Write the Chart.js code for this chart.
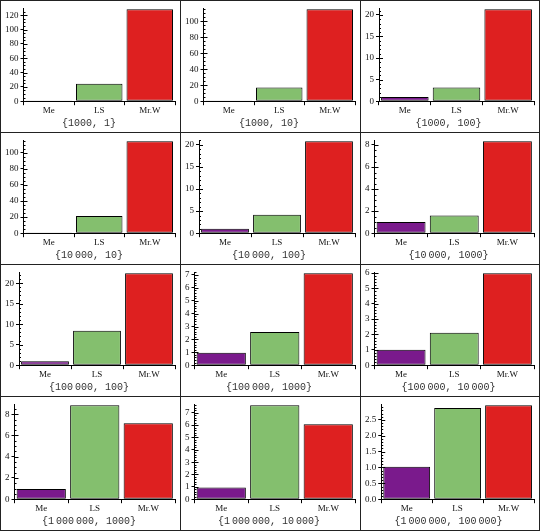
<!DOCTYPE html>
<html>
<head>
<meta charset="utf-8">
<script src="https://cdn.jsdelivr.net/npm/chart.js@4.4.0/dist/chart.umd.min.js"></script>
<style>
  html, body { margin: 0; padding: 0; background: #fff; }
  #grid {
    width: 540px; height: 531px; box-sizing: border-box;
    display: grid;
    grid-template-columns: 179px 179px 178px;
    grid-template-rows: 131px 131px 131px 133px;
    gap: 1px; padding: 1px;
    background: #222;
  }
  .cell { background: #fff; position: relative; overflow: hidden; }
  canvas { display: block; }
</style>
</head>
<body>
<div id="grid"></div>
<script>
// ── Data ─────────────────────────────────────────────
const categories = ['Me', 'LS', 'Mr.W'];
const panelTitles = [
    '{1000, 1}', '{1000, 10}', '{1000, 100}',
    '{10\u2009000, 10}', '{10\u2009000, 100}', '{10\u2009000, 1000}',
    '{100\u2009000, 100}', '{100\u2009000, 1000}', '{100\u2009000, 10\u2009000}',
    '{1\u2009000\u2009000, 1000}', '{1\u2009000\u2009000, 10\u2009000}', '{1\u2009000\u2009000, 100\u2009000}'
];
const meValues  = [1, 1, 1, 1, 1, 1.02, 0.95, 0.97, 1, 0.97, 0.95, 1.02];
const lsValues  = [24.5, 17.2, 3.2, 21.3, 4.2, 1.61, 8.4, 2.58, 2.11, 8.84, 7.6, 2.88];
const mrwValues = [128.4, 114.8, 21.3, 114.3, 20.8, 8.33, 22.4, 7.13, 5.98, 7.16, 6.07, 2.96];
const majorSteps = [20, 20, 5, 20, 5, 2, 5, 1, 1, 2, 1, 0.5];
const minorSteps = [5, 5, 1, 5, 1, 0.5, 1, 0.2, 0.2, 0.5, 0.2, 0.1];

const barColors = ['#7a1a8c', '#84bf6e', '#de2020'];
const colWidths = [179, 179, 178];
const rowHeights = [131, 131, 131, 133];

// minor ticks drawn inward from the y axis
const minorTicks = {
    id: 'minorTicks',
    afterDraw(chart, args, opts) {
        const y = chart.scales.y;
        const ctx = chart.ctx;
        const n = Math.floor(y.max / opts.step + 1e-6);
        ctx.save();
        ctx.strokeStyle = '#000';
        ctx.lineWidth = 1;
        ctx.beginPath();
        for (let i = 0; i <= n; i++) {
            const v = i * opts.step;
            const isMajor = Math.abs(v / opts.major - Math.round(v / opts.major)) < 1e-6;
            const py = Math.round(y.getPixelForValue(v)) + 0.5;
            ctx.moveTo(y.right, py);
            ctx.lineTo(y.right + (isMajor ? 4 : 2), py);
        }
        ctx.stroke();
        ctx.restore();
    }
};

const serif = "'Liberation Serif', 'DejaVu Serif', serif";
const mono = "'Liberation Mono', 'DejaVu Sans Mono', monospace";

const grid = document.getElementById('grid');

panelTitles.forEach((title, i) => {
    const cell = document.createElement('div');
    cell.className = 'cell';
    const canvas = document.createElement('canvas');
    canvas.width = colWidths[i % 3];
    canvas.height = rowHeights[Math.floor(i / 3)];
    cell.appendChild(canvas);
    grid.appendChild(cell);

    const values = [meValues[i], lsValues[i], mrwValues[i]];
    const step = majorSteps[i];

    new Chart(canvas, {
        type: 'bar',
        data: {
            labels: categories,
            datasets: [{
                data: values,
                backgroundColor: barColors,
                borderColor: '#000',
                borderWidth: 1,
                borderSkipped: false,
                barPercentage: 0.92,
                categoryPercentage: 1
            }]
        },
        options: {
            responsive: false,
            animation: false,
            events: [],
            layout: { padding: { top: 5, right: 5, left: 2, bottom: 0 } },
            plugins: {
                legend: { display: false },
                tooltip: { enabled: false },
                title: {
                    display: true,
                    text: title,
                    position: 'bottom',
                    color: '#333',
                    font: { family: mono, size: 10, weight: 'normal' },
                    padding: { top: 1, bottom: 3 }
                },
                minorTicks: { step: minorSteps[i], major: step }
            },
            scales: {
                x: {
                    offset: true,
                    grid: { display: true, drawOnChartArea: false, drawTicks: true, tickLength: 4, color: '#000', offset: true },
                    border: { display: true, color: '#000', width: 1 },
                    ticks: { color: '#111', padding: 0, font: { family: serif, size: 9 } }
                },
                y: {
                    min: 0,
                    max: Math.max(...values) * 1.01,
                    bounds: 'data',
                    grid: { display: true, drawOnChartArea: false, drawTicks: true, tickLength: 3, color: '#000' },
                    border: { display: true, color: '#000', width: 1 },
                    ticks: {
                        stepSize: step,
                        includeBounds: false,
                        autoSkip: false,
                        color: '#111',
                        padding: 2,
                        font: { family: serif, size: 9 },
                        callback: v => step < 1 ? v.toFixed(1) : String(v)
                    }
                }
            }
        },
        plugins: [minorTicks]
    });
});
</script>
</body>
</html>
